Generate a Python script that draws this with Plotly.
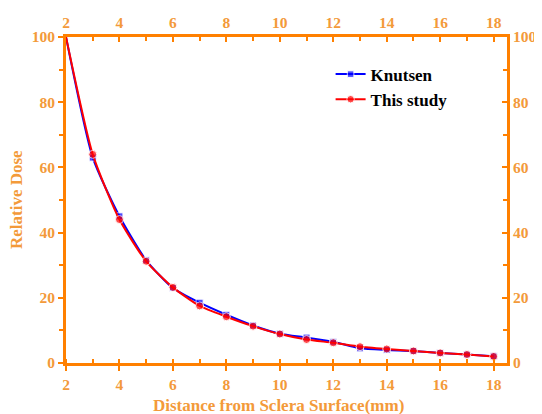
import plotly.graph_objects as go

distance = [2, 3, 4, 5, 6, 7, 8, 9, 10, 11, 12, 13, 14, 15, 16, 17, 18]
knutsen = [100, 63, 45, 31.5, 23, 18.5, 14.8, 11.5, 9.0, 7.8, 6.5, 4.5, 4.0, 3.7, 3.1, 2.6, 2.1]
this_study = [100, 64, 44, 31.2, 23.2, 17.5, 14.2, 11.3, 8.9, 7.2, 6.2, 5.0, 4.3, 3.7, 3.1, 2.6, 2.0]
x_ticks = [2, 4, 6, 8, 10, 12, 14, 16, 18]
y_ticks = [0, 20, 40, 60, 80, 100]

ORANGE = "#FF8000"
LABEL = "#F39A3A"
FONT = "Liberation Serif"

fig = go.Figure()
fig.add_trace(go.Scatter(
    x=distance, y=knutsen, name="Knutsen", mode="lines+markers",
    line=dict(color="#0000FF", width=2, shape="spline", smoothing=0.6),
    marker=dict(symbol="square", size=[0] + [7] * (len(distance) - 1), color="#0000FF"),
))
fig.add_trace(go.Scatter(
    x=distance, y=this_study, name="This study", mode="lines+markers",
    line=dict(color="#FF0000", width=2, shape="spline", smoothing=0.6),
    marker=dict(symbol="circle", size=[0] + [8] * (len(distance) - 1), color="#FF0000"),
))
# invisible trace to create top/right axes
fig.add_trace(go.Scatter(x=[2, 18], y=[0, 0], xaxis="x2", yaxis="y2",
                         mode="markers", marker=dict(opacity=0), showlegend=False,
                         hoverinfo="skip"))

tickfont = dict(family=FONT, size=15.5, color=LABEL, weight="bold")
common = dict(showline=True, linecolor=ORANGE, linewidth=3, showgrid=False,
              zeroline=False, tickcolor=ORANGE, tickwidth=2, tickfont=tickfont,
              automargin=False)
minor_in_x = dict(dtick=1, tick0=2, ticks="inside", ticklen=4, tickcolor=ORANGE, tickwidth=2)
minor_y_out = dict(dtick=10, tick0=0, ticks="outside", ticklen=4, tickcolor=ORANGE, tickwidth=2)
minor_y_in = dict(dtick=10, tick0=0, ticks="inside", ticklen=4, tickcolor=ORANGE, tickwidth=2)

title_font = dict(family=FONT, size=17, color=LABEL, weight="bold")

fig.update_layout(
    width=534, height=406,
    margin=dict(l=58, r=35, t=29, b=51, pad=0),
    plot_bgcolor="white", paper_bgcolor="white",
    xaxis=dict(range=[2, 18.5], tickvals=x_ticks, ticks="outside", ticklen=5,
               minor=minor_in_x, **common),
    xaxis2=dict(range=[2, 18.5], tickvals=x_ticks, overlaying="x", side="top",
                ticks="inside", ticklen=5, minor=minor_in_x, **common),
    yaxis=dict(range=[0, 100], tickvals=y_ticks, ticks="outside", ticklen=5,
               minor=minor_y_out, **common),
    yaxis2=dict(range=[0, 100], tickvals=y_ticks, overlaying="y", side="right",
                ticks="inside", ticklen=5, minor=minor_y_in, **common),
    legend=dict(x=0.6, y=0.94, xanchor="left", yanchor="top", bgcolor="rgba(0,0,0,0)",
                font=dict(family=FONT, size=17, color="black", weight="bold"),
                tracegroupgap=0, itemwidth=30),
    showlegend=True,
    annotations=[
        dict(text="Distance from Sclera Surface(mm)", xref="paper", yref="paper",
             x=(278 - 66) / 441, y=-(406 - 363) / 326, xanchor="center", yanchor="middle",
             showarrow=False, font=title_font),
        dict(text="Relative Dose", xref="paper", yref="paper",
             x=-(66 - 16) / 441, y=(363 - 200) / 326, xanchor="center", yanchor="middle",
             textangle=-90, showarrow=False, font=title_font),
    ],
)

fig.write_html("out.html")
